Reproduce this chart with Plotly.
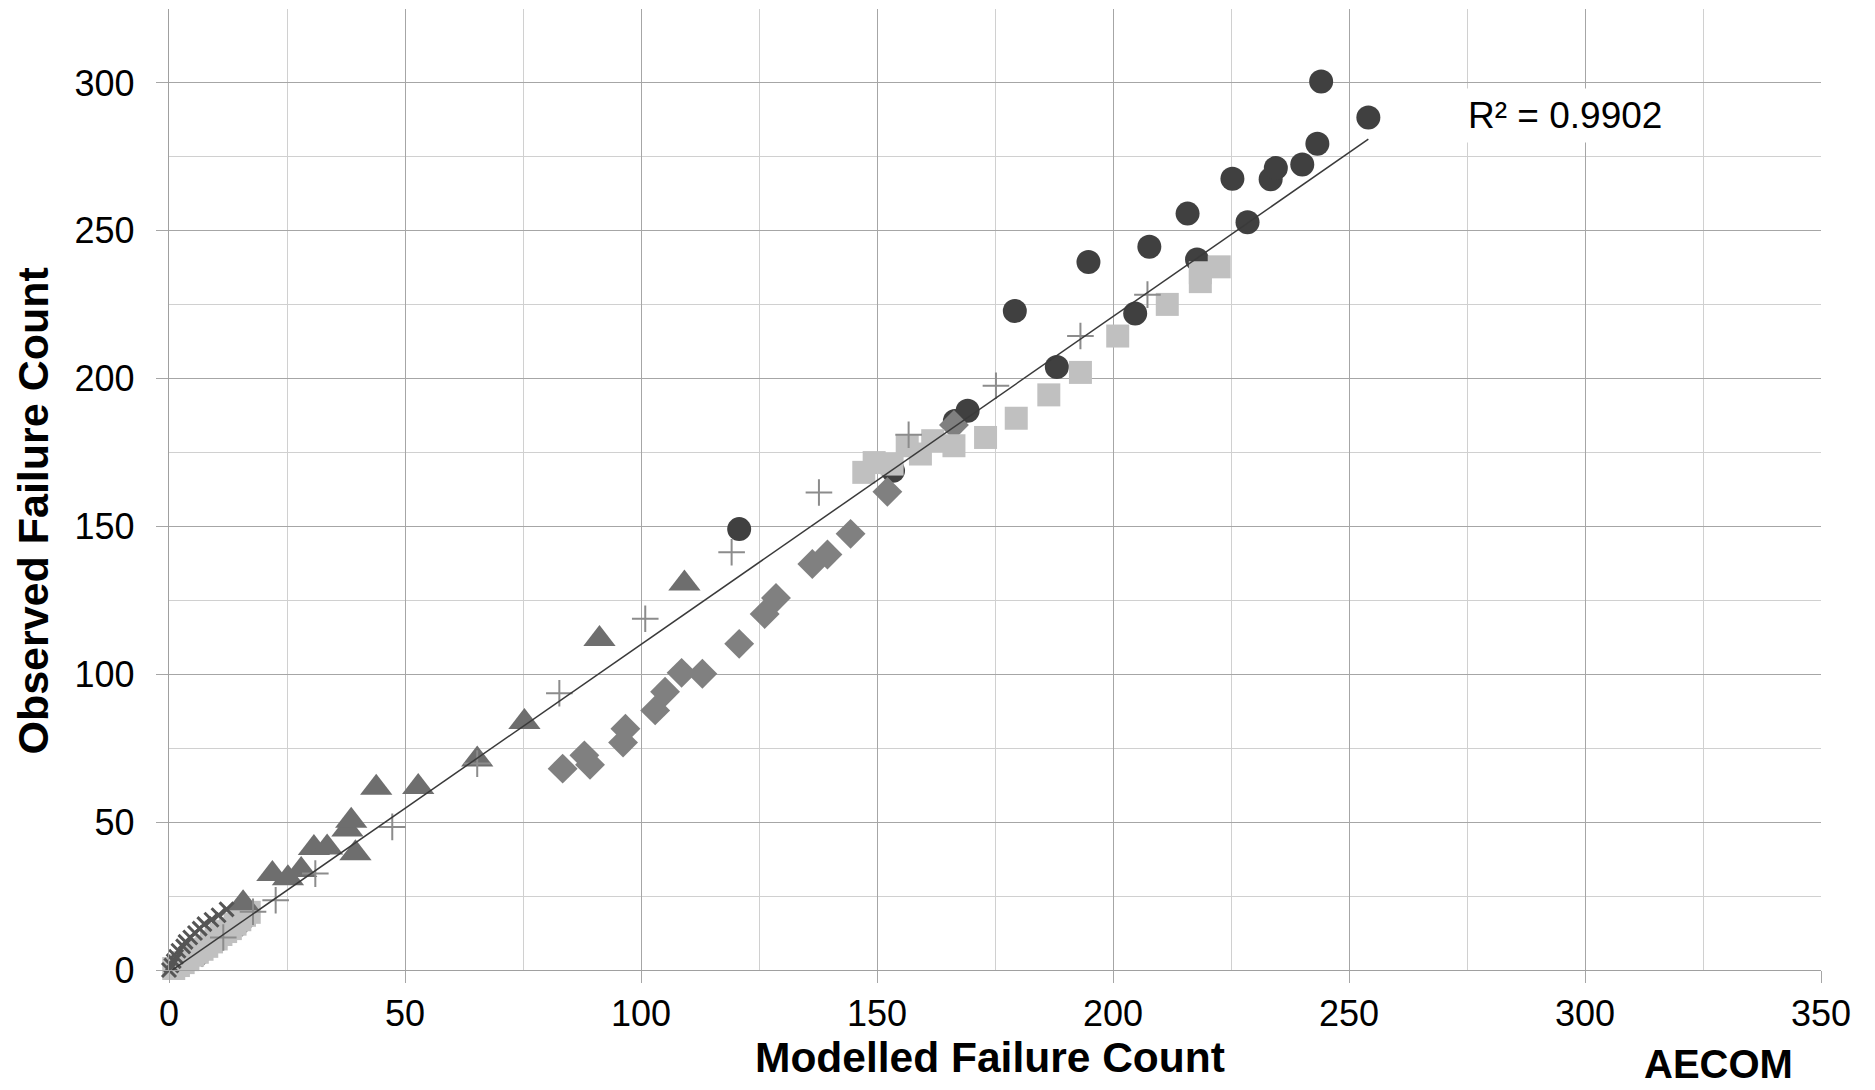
import numpy as np
import plotly.graph_objects as go

# ---------------- data ----------------
circle_x = [120.8, 153.4, 166.5, 169.2, 179.2, 188.1, 194.8, 204.7, 207.7, 215.8,
            217.8, 225.3, 228.5, 233.4, 234.5, 240.1, 243.3, 244.1, 254.1]
circle_y = [149.1, 168.8, 185.7, 189.1, 222.9, 203.9, 239.4, 222.0, 244.6, 255.8,
            240.3, 267.6, 252.9, 267.4, 271.2, 272.4, 279.4, 300.5, 288.3]

diamond_x = [3.0, 7.0, 11.0, 15.5, 83.4, 88.0, 89.2, 96.2, 96.7, 103.0, 105.1, 108.6,
             113.0, 120.8, 126.2, 128.6, 136.3, 139.5, 144.4, 152.2, 166.3]
diamond_y = [2.5, 6.0, 11.0, 16.3, 68.1, 72.6, 69.4, 76.9, 81.6, 87.8, 94.1, 100.5,
             100.2, 110.3, 120.4, 125.8, 137.3, 140.5, 147.5, 161.7, 184.3]

square_x = [1, 2, 3, 4, 5, 6, 7, 8, 9, 10, 11, 12, 13, 14, 15, 16, 17,
            147.2, 149.4, 153.2, 156.4, 159.2, 161.8, 166.3, 173.0, 179.5, 186.4,
            193.1, 201.0, 211.5, 218.5, 218.5, 222.5]
square_y = [0.5, 1.5, 2.5, 3.5, 5.0, 6.0, 7.0, 8.0, 9.5, 10.5, 12.0, 13.0, 14.0, 15.5, 17.0, 18.5, 19.5,
            168.3, 171.6, 171.1, 177.3, 174.5, 179.0, 177.3, 180.1, 186.6, 194.5,
            202.1, 214.4, 225.1, 232.8, 235.8, 237.8]

triangle_x = [15.7, 21.9, 25.2, 28.0, 30.7, 33.5, 37.8, 38.6, 39.5, 43.9, 52.8,
              65.3, 75.3, 91.2, 109.2]
triangle_y = [22.6, 32.5, 31.0, 33.8, 41.3, 41.4, 47.5, 50.5, 39.5, 61.6, 61.9,
              71.2, 83.9, 111.9, 130.7]

xmark_x = [0.0, 0.5, 1.0, 1.5, 2.0, 3.0, 3.5, 4.5, 5.5, 6.5, 7.5, 9.0, 10.5, 12.2]
xmark_y = [0.0, 1.5, 3.0, 4.5, 6.5, 8.0, 9.5, 11.0, 12.5, 14.0, 15.5, 17.0, 18.5, 20.5]

plus_x = [11.5, 17.8, 22.6, 31.0, 47.3, 65.3, 82.7, 100.9, 119.2, 137.7, 156.7,
          175.2, 193.1, 207.3]
plus_y = [11.0, 19.7, 23.6, 32.6, 48.4, 69.8, 93.6, 118.8, 141.3, 161.5, 181.0,
          197.6, 214.4, 228.4]

x_ticks = [0, 50, 100, 150, 200, 250, 300, 350]
y_ticks = [0, 50, 100, 150, 200, 250, 300]
r2_label = "R² = 0.9902"
x_title = "Modelled Failure Count"
y_title = "Observed Failure Count"
logo_text = "AECOM"

# ---------------- trendline from all points ----------------
all_x = np.array(circle_x + diamond_x + square_x + triangle_x + xmark_x + plus_x)
all_y = np.array(circle_y + diamond_y + square_y + triangle_y + xmark_y + plus_y)
slope, intercept = np.polyfit(all_x, all_y, 1)
tx = np.array([all_x.min(), all_x.max()])
ty = slope * tx + intercept

FONT = "Liberation Sans, Arial, sans-serif"

fig = go.Figure()
fig.add_trace(go.Scatter(x=circle_x, y=circle_y, mode="markers", cliponaxis=False,
                         marker=dict(symbol="circle", size=24, color="#404040"), name="c"))
fig.add_trace(go.Scatter(x=diamond_x, y=diamond_y, mode="markers", cliponaxis=False,
                         marker=dict(symbol="diamond", size=23, color="#808080"), name="d"))
fig.add_trace(go.Scatter(x=square_x, y=square_y, mode="markers", cliponaxis=False,
                         marker=dict(symbol="square", size=23, color="#c0c0c0"), name="s"))
fig.add_trace(go.Scatter(x=triangle_x, y=triangle_y, mode="markers", cliponaxis=False,
                         marker=dict(symbol="triangle-up", size=28, color="#6e6e6e"), name="t"))
fig.add_trace(go.Scatter(x=xmark_x, y=xmark_y, mode="markers", cliponaxis=False,
                         marker=dict(symbol="x-thin", size=14, color="#555555",
                                     line=dict(width=3, color="#555555")), name="x"))
fig.add_trace(go.Scatter(x=plus_x, y=plus_y, mode="markers", cliponaxis=False,
                         marker=dict(symbol="cross-thin", size=19, color="#8c8c8c",
                                     line=dict(width=2, color="#8c8c8c")), name="p"))
fig.add_trace(go.Scatter(x=tx, y=ty, mode="lines", line=dict(color="#3a3a3a", width=1.5),
                         name="trend", hoverinfo="skip"))

axis_common = dict(
    showgrid=True, gridcolor="#a6a6a6", gridwidth=1.3,
    zeroline=False, showline=True, linecolor="#a0a0a0", linewidth=1.3,
    ticks="outside", ticklen=12, tickcolor="#a6a6a6", tickwidth=1.3,
    tickfont=dict(family=FONT, size=36, color="#000000"),
    automargin=False,
    minor=dict(dtick=25, showgrid=True, gridcolor="#d0d0d0", gridwidth=1.3, ticks=""),
)

fig.update_layout(
    width=1875, height=1090,
    margin=dict(l=169, r=54, t=9, b=120),
    paper_bgcolor="white", plot_bgcolor="white",
    showlegend=False,
    font=dict(family=FONT, color="#000000"),
    xaxis=dict(range=[0, 350], tickvals=x_ticks, ticklabelstandoff=0, **axis_common),
    yaxis=dict(range=[0, 325], tickvals=y_ticks, ticklabelstandoff=14, **axis_common),
)

# axis titles
fig.add_annotation(x=0.497, y=-0.0915, xref="paper", yref="paper", text="<b>" + x_title + "</b>",
                   showarrow=False, xanchor="center", yanchor="middle",
                   font=dict(family=FONT, size=42.5, color="#000000"))
fig.add_annotation(x=-0.0826, y=0.4776, xref="paper", yref="paper", text="<b>" + y_title + "</b>",
                   showarrow=False, xanchor="center", yanchor="middle", textangle=-90,
                   font=dict(family=FONT, size=43, color="#000000"))

fig.add_annotation(x=273.7, y=289, xref="x", yref="y", text=r2_label, showarrow=False,
                   xanchor="left", yanchor="middle", bgcolor="white", borderpad=6,
                   font=dict(family=FONT, size=37, color="#000000"))

fig.add_annotation(x=0.9377, y=-0.0978, xref="paper", yref="paper", text="<b>" + logo_text + "</b>",
                   showarrow=False, xanchor="center", yanchor="middle",
                   font=dict(family=FONT, size=40, color="#000000"))

fig.write_html("out.html", config={"displayModeBar": False},
               post_script="document.body.style.margin='0';document.body.style.overflow='hidden';")
